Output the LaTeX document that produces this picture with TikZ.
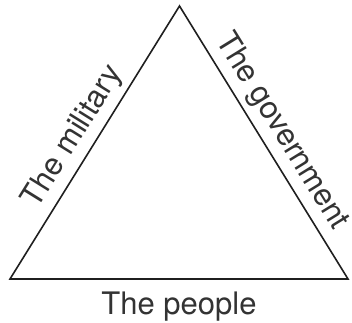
\documentclass[tikz,border=0pt]{standalone}
\usepackage{fontspec}
\setmainfont{TeX Gyre Heros}
\begin{document}
\begin{tikzpicture}[x=1pt,y=1pt,
  side/.style={draw=black!88, line width=1.6pt, line join=miter},
  lbl/.style={font=\fontsize{31}{37}\selectfont, text=black!80}]
\useasboundingbox (0,0) rectangle (352,322);
\coordinate (apex) at (179.5,316);
\coordinate (bl) at (10,43);
\coordinate (br) at (348,43);
\draw[side] (bl) -- (apex) -- (br) -- cycle;
\path (bl) -- (apex) node[pos=0.48, sloped, above, inner sep=6pt, lbl] (mil) {The military};
\path (apex) -- (br) node[pos=0.5, sloped, above, inner sep=6pt, lbl] (gov) {The government};
\node[lbl, anchor=base, inner sep=0pt] (peo) at (179,8) {The people};
\end{tikzpicture}
\end{document}
